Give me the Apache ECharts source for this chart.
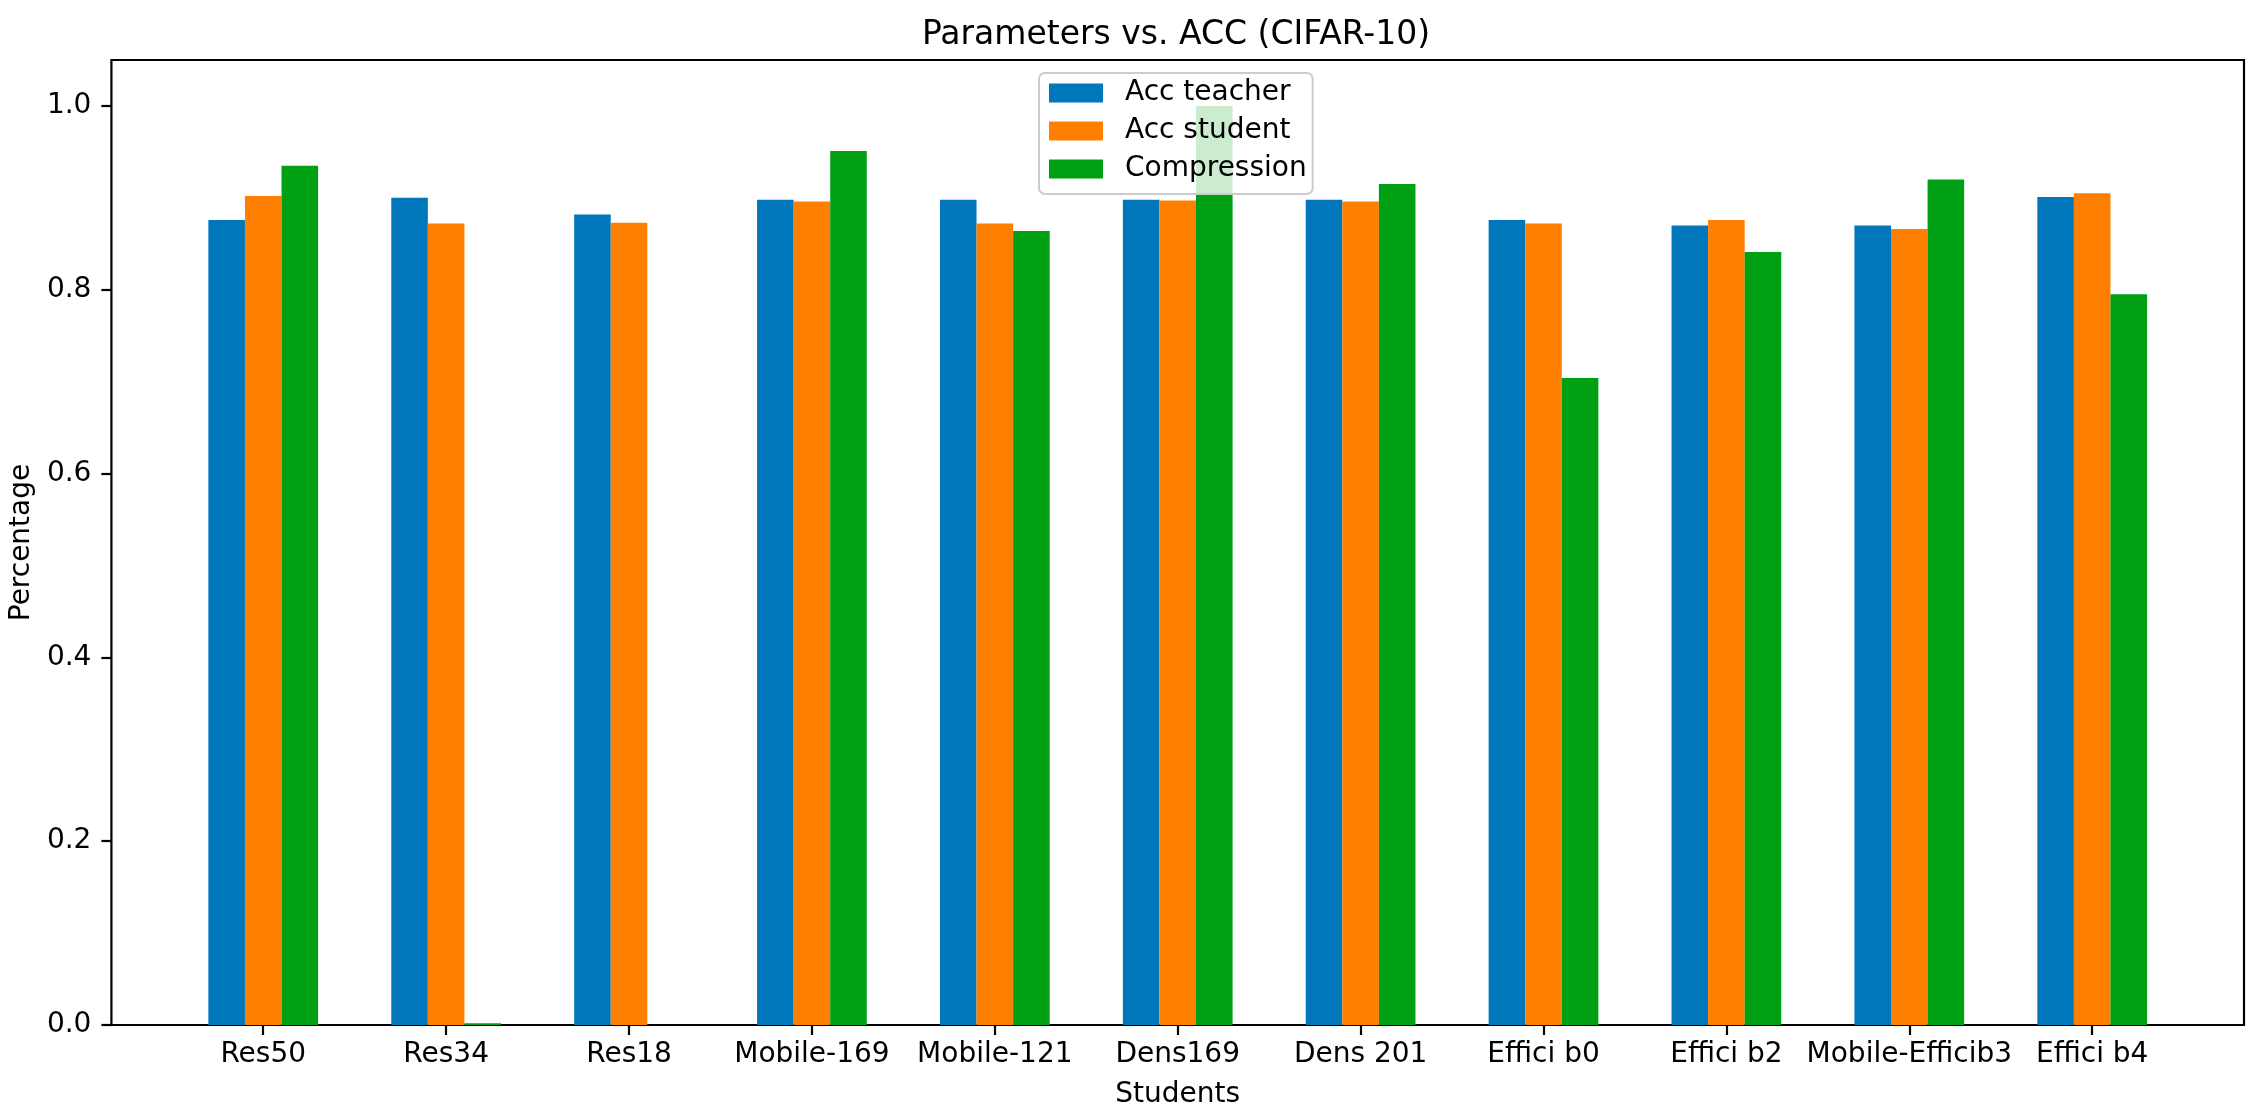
<!DOCTYPE html>
<html>
<head>
<meta charset="utf-8">
<script src="https://cdn.jsdelivr.net/npm/echarts@6/dist/echarts.min.js"></script>
<style>
html,body{margin:0;padding:0;background:#fff;}
#chart{width:2261px;height:1114px;}
</style>
</head>
<body>
<div id="chart"></div>
<script>
const categories = ['Res50','Res34','Res18','Mobile-169','Mobile-121','Dens169','Dens 201','Effici b0','Effici b2','Mobile-Efficib3','Effici b4'];
const accTeacher = [0.876,0.900,0.882,0.898,0.898,0.898,0.898,0.876,0.870,0.870,0.901];
const accStudent = [0.902,0.872,0.873,0.896,0.872,0.897,0.896,0.872,0.876,0.866,0.905];
const compression = [0.935,0.002,0.0,0.951,0.864,1.0,0.915,0.704,0.841,0.920,0.795];
const yTicks = [0,0.2,0.4,0.6,0.8,1.0];
const seriesNames = ['Acc teacher','Acc student','Compression'];
const colors = ['#0077bb','#ff8000','#00a015'];

const FONT = 'DejaVu Sans';
const xTickVals = categories.map((c,i)=>i);
const toPairs = arr => arr.map((v,i)=>[i,v]);

const chart = echarts.init(document.getElementById('chart'));
chart.setOption({
  animation:false,
  backgroundColor:'#fff',
  title:{
    text:'Parameters vs. ACC (CIFAR-10)',
    left:1176, top:19, padding:0, textAlign:'center',
    textStyle:{fontFamily:FONT,fontSize:33,fontWeight:'normal',color:'#000'}
  },
  legend:{
    orient:'vertical',
    left:1039, top:73,
    padding:[6,6,11,10],
    itemWidth:54, itemHeight:19, itemGap:10,
    backgroundColor:'rgba(255,255,255,0.8)',
    borderColor:'#cccccc', borderWidth:2, borderRadius:6,
    icon:'rect',
    textStyle:{fontFamily:FONT,fontSize:28,color:'#000',padding:[0,0,0,17]},
    data:seriesNames
  },
  grid:{
    left:108, right:17, top:60, bottom:80,
    show:true, borderColor:'#000', borderWidth:2.2, backgroundColor:'transparent',
    containLabel:false
  },
  xAxis:{
    type:'value', min:-0.83, max:10.83,
    name:'Students', nameLocation:'middle', nameGap:56,
    nameTextStyle:{fontFamily:FONT,fontSize:28,color:'#000'},
    axisLine:{show:false,onZero:false},
    splitLine:{show:false},
    axisTick:{show:true,length:10,lineStyle:{color:'#000',width:2.2},customValues:xTickVals},
    axisLabel:{fontFamily:FONT,fontSize:28,color:'#000',margin:16,customValues:xTickVals,
      formatter:v=>categories[Math.round(v)]}
  },
  yAxis:{
    type:'value', min:0, max:1.05,
    name:'Percentage', nameLocation:'middle', nameGap:60,
    nameTextStyle:{fontFamily:FONT,fontSize:28,color:'#000'},
    axisLine:{show:false,onZero:false},
    splitLine:{show:false},
    axisTick:{show:true,length:10,lineStyle:{color:'#000',width:2.2},customValues:yTicks},
    axisLabel:{fontFamily:FONT,fontSize:28,color:'#000',margin:20,customValues:yTicks,
      formatter:v=>v.toFixed(1)}
  },
  series:[
    {name:seriesNames[0],type:'bar',data:toPairs(accTeacher),barWidth:'20%',barGap:'0%',itemStyle:{color:colors[0]}},
    {name:seriesNames[1],type:'bar',data:toPairs(accStudent),barWidth:'20%',barGap:'0%',itemStyle:{color:colors[1]}},
    {name:seriesNames[2],type:'bar',data:toPairs(compression),barWidth:'20%',barGap:'0%',itemStyle:{color:colors[2]}}
  ]
});
</script>
</body>
</html>
